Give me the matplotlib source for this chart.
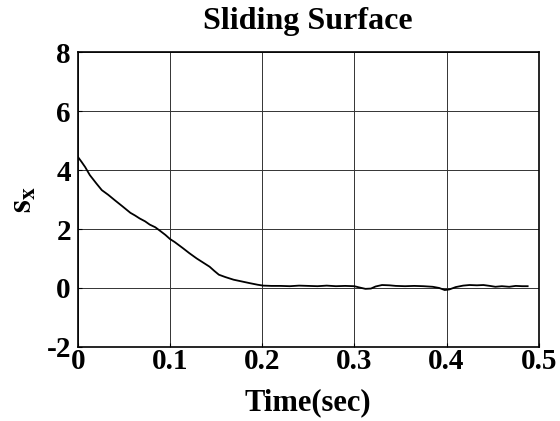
import matplotlib
matplotlib.use("Agg")
import matplotlib.pyplot as plt

# sliding surface s_x
time = [0.0, 0.004, 0.008, 0.013, 0.02, 0.026, 0.033, 0.04, 0.048, 0.057,
        0.062, 0.067, 0.073, 0.078, 0.084, 0.09, 0.095, 0.1, 0.105, 0.114,
        0.121, 0.129, 0.136, 0.143, 0.148, 0.153, 0.16, 0.169, 0.178, 0.187,
        0.195, 0.201, 0.21, 0.22, 0.23, 0.24, 0.25, 0.26, 0.27, 0.28, 0.29,
        0.3, 0.305, 0.312, 0.318, 0.323, 0.33, 0.338, 0.345, 0.355, 0.365,
        0.375, 0.385, 0.392, 0.398, 0.403, 0.41, 0.418, 0.425, 0.433, 0.44,
        0.447, 0.453, 0.46, 0.468, 0.475, 0.482, 0.488]
s_x = [4.45, 4.28, 4.1, 3.83, 3.55, 3.32, 3.16, 2.98, 2.78, 2.55,
       2.46, 2.36, 2.26, 2.15, 2.06, 1.92, 1.8, 1.66, 1.56, 1.35,
       1.18, 1.0, 0.86, 0.72, 0.58, 0.45, 0.37, 0.28, 0.22, 0.16,
       0.11, 0.08, 0.07, 0.07, 0.06, 0.08, 0.07, 0.06, 0.08, 0.06, 0.07,
       0.06, 0.02, -0.03, -0.02, 0.05, 0.1, 0.09, 0.07, 0.06, 0.07,
       0.06, 0.04, 0.0, -0.07, -0.05, 0.03, 0.08, 0.1, 0.09, 0.1,
       0.07, 0.04, 0.06, 0.04, 0.07, 0.06, 0.06]

xticks = [0, 0.1, 0.2, 0.3, 0.4, 0.5]
xticklabels = ["0", "0.1", "0.2", "0.3", "0.4", "0.5"]
yticks = [-2, 0, 2, 4, 6, 8]

plt.rcParams["font.family"] = ["Liberation Serif", "DejaVu Serif"]
plt.rcParams["font.weight"] = "bold"
plt.rcParams["mathtext.fontset"] = "stix"
plt.rcParams["axes.unicode_minus"] = False

fig = plt.figure(figsize=(5.6, 4.21), dpi=100)
ax = fig.add_axes([0.139, 0.176, 0.823, 0.700])

ax.plot(time, s_x, color="black", linewidth=1.3)

ax.set_xlim(0, 0.5)
ax.set_ylim(-2, 8)
ax.set_xticks(xticks)
ax.set_xticklabels(xticklabels)
ax.set_yticks(yticks)
ax.grid(True, color="#333333", linewidth=0.7, linestyle="-")
ax.tick_params(direction="in", length=3, labelsize=21)
ax.tick_params(axis="x", pad=1)
ax.tick_params(axis="y", pad=5)
for lbl in ax.get_xticklabels() + ax.get_yticklabels():
    lbl.set_fontweight("bold")
for sp in ax.spines.values():
    sp.set_linewidth(1.2)

ax.set_title("Sliding Surface", fontsize=23, fontweight="bold", pad=17)
ax.set_xlabel("Time(sec)", fontsize=22, fontweight="bold", labelpad=9)
ax.set_ylabel(r"$\mathbf{s_x}$", fontsize=24, labelpad=6)

fig.savefig("out.png", dpi=100)
